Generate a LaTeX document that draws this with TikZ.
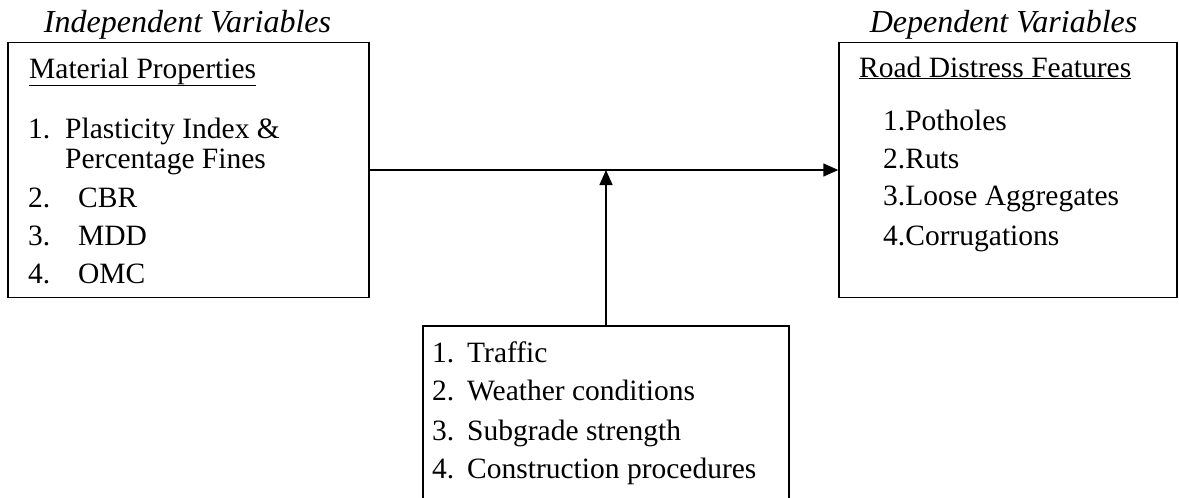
\documentclass[tikz,border=0pt]{standalone}
\usepackage{fontspec}
\setmainfont{Liberation Serif}
\usetikzlibrary{arrows.meta}
\begin{document}
\begin{tikzpicture}[x=1pt,y=-1pt,
  box/.style={draw,line width=1.5pt,rectangle,inner sep=0pt},
  txt/.style={anchor=base west,inner sep=0pt,font=\fontsize{29.5}{34}\selectfont},
  ttl/.style={anchor=base,inner sep=0pt,font=\fontsize{32}{36}\selectfont\itshape},
  conn/.style={line width=1.5pt,-{Triangle[length=15pt,width=13pt]}}]
\useasboundingbox (0,0) rectangle (1179,498);
\node[box,minimum width=361pt,minimum height=255pt] (left) at (188.5,170) {};
\node[box,minimum width=338pt,minimum height=255pt] (right) at (1008,170) {};
\node[box,minimum width=366pt,minimum height=184pt] (bot) at (606,418) {};
\coordinate (meet) at (bot.north |- left.east);
\draw[conn] (left.east) -- (right.west);
\draw[conn] (bot.north) -- (meet);
% titles
\node[ttl] (tI) at (187.5,32) {Independent Variables};
\node[ttl] (tD) at (1003.5,32) {Dependent Variables};
% left box texts
\node[txt] (lh) at (29,78) {\underline{Material Properties}};
\node[txt] (l1n) at (28,138) {1.};
\node[txt] (l1a) at (65,138) {Plasticity Index \&};
\node[txt] (l1b) at (65,168) {Percentage Fines};
\node[txt] (l2n) at (28,207) {2.};
\node[txt] (l2) at (78,207) {CBR};
\node[txt] (l3n) at (28,245) {3.};
\node[txt] (l3) at (78,245) {MDD};
\node[txt] (l4n) at (28,283) {4.};
\node[txt] (l4) at (78,283) {OMC};
% right box texts
\node[txt] (rh) at (859,77) {\underline{Road Distress Features}};
\node[txt] (r1) at (883,130) {1.Potholes};
\node[txt] (r2) at (883,168) {2.Ruts};
\node[txt] (r3) at (883,205) {3.Loose Aggregates};
\node[txt] (r4) at (883,245) {4.Corrugations};
% bottom box texts
\node[txt] (b1n) at (432,362) {1.};
\node[txt] (b1) at (467,362) {Traffic};
\node[txt] (b2n) at (432,400) {2.};
\node[txt] (b2) at (467,400) {Weather conditions};
\node[txt] (b3n) at (432,440) {3.};
\node[txt] (b3) at (467,440) {Subgrade strength};
\node[txt] (b4n) at (432,478) {4.};
\node[txt] (b4) at (467,478) {Construction procedures};
\end{tikzpicture}
\end{document}
